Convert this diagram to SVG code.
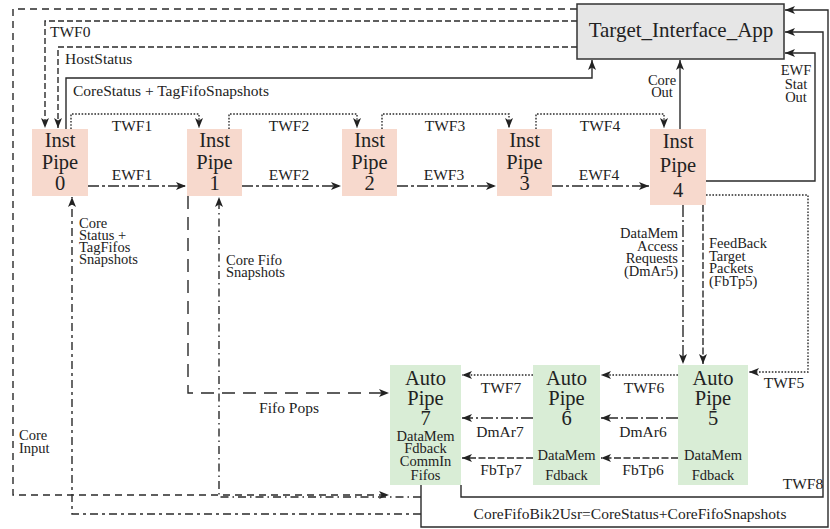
<svg xmlns="http://www.w3.org/2000/svg" width="830" height="529" viewBox="0 0 830 529">
<style>
text{font-family:"Liberation Serif","DejaVu Serif",serif;fill:#222}
.lbl{font-size:15.5px}
.ml{font-size:14.5px}
.big{font-size:20.5px}
.mid{font-size:14.5px}
.inst{fill:#f7d9cd}
.auto{fill:#d9edd6}
.c{fill:none;stroke:#2a2a2a;stroke-width:1.4}
.dl{stroke-dasharray:7 5}
.dm{stroke-dasharray:6 3}
.dot{stroke-dasharray:1.6 1.6}
.ewf{stroke-dasharray:11 3 3 3}
.dmar{stroke-dasharray:12 3 2 3}
.fb{stroke-dasharray:7 2.5}
.pops{stroke-dasharray:13 8}
.cs{stroke-dasharray:8 4 3 4}
.cf{stroke-dasharray:8 4 1.5 4}
.arr{marker-end:url(#ah)}
</style>
<defs>
<marker id="ah" markerUnits="userSpaceOnUse" viewBox="0 0 10 8" markerWidth="10" markerHeight="8" refX="10" refY="4" orient="auto">
<path d="M0,0 L10,4 L0,8 L2.5,4 z" fill="#222"/>
</marker>
</defs>
<rect width="830" height="529" fill="#fff"/>

<g id="connectors">
<path class="c dl arr" d="M577,9 H13 V495 H389"/>
<path class="c dm arr" d="M577,21 H45 V128"/>
<path class="c dm arr" d="M577,47 H58 V128"/>
<path class="c arr" d="M66,129 V78 H592 V60"/>
<path class="c dot arr" d="M71,129 V114 H199 V128"/>
<path class="c dot arr" d="M229,129 V114 H357 V128"/>
<path class="c dot arr" d="M382,129 V114 H509 V128"/>
<path class="c dot arr" d="M536,129 V114 H664 V128"/>
<path class="c ewf arr" d="M88,186 H186"/>
<path class="c ewf arr" d="M242,186 H341"/>
<path class="c ewf arr" d="M397,186 H496"/>
<path class="c ewf arr" d="M552,186 H649"/>
<path class="c arr" d="M680,129 V60"/>
<path class="c arr" d="M706,181 H815 V53 H785"/>
<path class="c dot arr" d="M706,195 H808 V372 H749"/>
<path class="c dmar arr" d="M683,205 V364"/>
<path class="c fb arr" d="M703,205 V364"/>
<path class="c dot arr" d="M678,375 H601"/>
<path class="c dot arr" d="M533,375 H462"/>
<path class="c dmar arr" d="M678,418 H601"/>
<path class="c dmar arr" d="M533,418 H462"/>
<path class="c fb arr" d="M678,458 H601"/>
<path class="c fb arr" d="M533,458 H462"/>
<path class="c arr" d="M461,485 V497 H823 V32 H785"/>
<path class="c arr" d="M421,485 V527 H828 V10 H785"/>
<path class="c cs arr" d="M421,514 H72 V197"/>
<path class="c cf arr" d="M421,497 H219 V197"/>
<path class="c pops arr" d="M188,196 V393 H389"/>

<text class="lbl" x="50" y="37">TWF0</text>
<text class="lbl" x="65" y="64">HostStatus</text>
<text class="lbl" x="73" y="96">CoreStatus + TagFifoSnapshots</text>
<text class="lbl" x="132" y="131" text-anchor="middle">TWF1</text>
<text class="lbl" x="289" y="131" text-anchor="middle">TWF2</text>
<text class="lbl" x="445" y="131" text-anchor="middle">TWF3</text>
<text class="lbl" x="600" y="131" text-anchor="middle">TWF4</text>
<text class="lbl" x="132" y="180" text-anchor="middle">EWF1</text>
<text class="lbl" x="289" y="180" text-anchor="middle">EWF2</text>
<text class="lbl" x="444" y="180" text-anchor="middle">EWF3</text>
<text class="lbl" x="599" y="180" text-anchor="middle">EWF4</text>
<text class="ml" x="662" y="85" text-anchor="middle">Core</text>
<text class="ml" x="662" y="97" text-anchor="middle">Out</text>
<text class="ml" x="796" y="75" text-anchor="middle">EWF</text>
<text class="ml" x="796" y="89" text-anchor="middle">Stat</text>
<text class="ml" x="796" y="102" text-anchor="middle">Out</text>
<text class="ml" x="678" y="238" text-anchor="end">DataMem</text>
<text class="ml" x="678" y="251" text-anchor="end">Access</text>
<text class="ml" x="678" y="263" text-anchor="end">Requests</text>
<text class="ml" x="678" y="276" text-anchor="end">(DmAr5)</text>
<text class="ml" x="709" y="248">FeedBack</text>
<text class="ml" x="709" y="261">Target</text>
<text class="ml" x="709" y="273">Packets</text>
<text class="ml" x="709" y="286">(FbTp5)</text>
<text class="ml" x="79" y="228">Core</text>
<text class="ml" x="79" y="240">Status +</text>
<text class="ml" x="79" y="252">TagFifos</text>
<text class="ml" x="79" y="264">Snapshots</text>
<text class="ml" x="226" y="265">Core Fifo</text>
<text class="ml" x="226" y="277">Snapshots</text>
<text class="ml" x="19" y="440">Core</text>
<text class="ml" x="19" y="453">Input</text>
<text class="lbl" x="289" y="413" text-anchor="middle">Fifo Pops</text>
<text class="lbl" x="784" y="388" text-anchor="middle">TWF5</text>
<text class="lbl" x="644" y="393" text-anchor="middle">TWF6</text>
<text class="lbl" x="501" y="393" text-anchor="middle">TWF7</text>
<text class="lbl" x="643" y="437" text-anchor="middle">DmAr6</text>
<text class="lbl" x="500" y="437" text-anchor="middle">DmAr7</text>
<text class="lbl" x="643" y="475" text-anchor="middle">FbTp6</text>
<text class="lbl" x="501" y="475" text-anchor="middle">FbTp7</text>
<text class="lbl" x="803" y="489" text-anchor="middle">TWF8</text>
<text class="lbl" x="630" y="519" text-anchor="middle">CoreFifoBik2Usr=CoreStatus+CoreFifoSnapshots</text>
</g>

<g id="tia">
<rect x="577" y="4" width="207" height="55" fill="#e6e6e6" stroke="#333" stroke-width="1.5"/>
<text class="big" x="681" y="37" text-anchor="middle" style="font-size:21px">Target_Interface_App</text>
</g>

<g id="inst0">
<rect class="inst" x="32" y="129" width="56" height="67"/>
<text class="big" x="60" y="147" text-anchor="middle">Inst</text>
<text class="big" x="60" y="169" text-anchor="middle">Pipe</text>
<text class="big" x="60" y="190" text-anchor="middle">0</text>
</g>
<g id="inst1">
<rect class="inst" x="187" y="129" width="55" height="67"/>
<text class="big" x="214.5" y="147" text-anchor="middle">Inst</text>
<text class="big" x="214.5" y="169" text-anchor="middle">Pipe</text>
<text class="big" x="214.5" y="190" text-anchor="middle">1</text>
</g>
<g id="inst2">
<rect class="inst" x="342" y="129" width="55" height="67"/>
<text class="big" x="369.5" y="147" text-anchor="middle">Inst</text>
<text class="big" x="369.5" y="169" text-anchor="middle">Pipe</text>
<text class="big" x="369.5" y="190" text-anchor="middle">2</text>
</g>
<g id="inst3">
<rect class="inst" x="497" y="129" width="55" height="67"/>
<text class="big" x="524.5" y="147" text-anchor="middle">Inst</text>
<text class="big" x="524.5" y="169" text-anchor="middle">Pipe</text>
<text class="big" x="524.5" y="190" text-anchor="middle">3</text>
</g>
<g id="inst4">
<rect class="inst" x="650" y="129" width="56" height="76"/>
<text class="big" x="678" y="148" text-anchor="middle">Inst</text>
<text class="big" x="678" y="172" text-anchor="middle">Pipe</text>
<text class="big" x="678" y="197" text-anchor="middle">4</text>
</g>

<g id="auto7">
<rect class="auto" x="390" y="365" width="71" height="120"/>
<text class="big" x="425.5" y="385" text-anchor="middle">Auto</text>
<text class="big" x="425.5" y="405" text-anchor="middle">Pipe</text>
<text class="big" x="425.5" y="425" text-anchor="middle">7</text>
<text class="mid" x="425.5" y="441" text-anchor="middle">DataMem</text>
<text class="mid" x="425.5" y="453" text-anchor="middle">Fdback</text>
<text class="mid" x="425.5" y="466" text-anchor="middle">CommIn</text>
<text class="mid" x="425.5" y="480" text-anchor="middle">Fifos</text>
</g>
<g id="auto6">
<rect class="auto" x="533" y="365" width="67" height="120"/>
<text class="big" x="566.5" y="385" text-anchor="middle">Auto</text>
<text class="big" x="566.5" y="405" text-anchor="middle">Pipe</text>
<text class="big" x="566.5" y="425" text-anchor="middle">6</text>
<text class="mid" x="566.5" y="460" text-anchor="middle">DataMem</text>
<text class="mid" x="566.5" y="480" text-anchor="middle">Fdback</text>
</g>
<g id="auto5">
<rect class="auto" x="678" y="365" width="70" height="120"/>
<text class="big" x="713" y="385" text-anchor="middle">Auto</text>
<text class="big" x="713" y="405" text-anchor="middle">Pipe</text>
<text class="big" x="713" y="425" text-anchor="middle">5</text>
<text class="mid" x="713" y="460" text-anchor="middle">DataMem</text>
<text class="mid" x="713" y="480" text-anchor="middle">Fdback</text>
</g>
</svg>
